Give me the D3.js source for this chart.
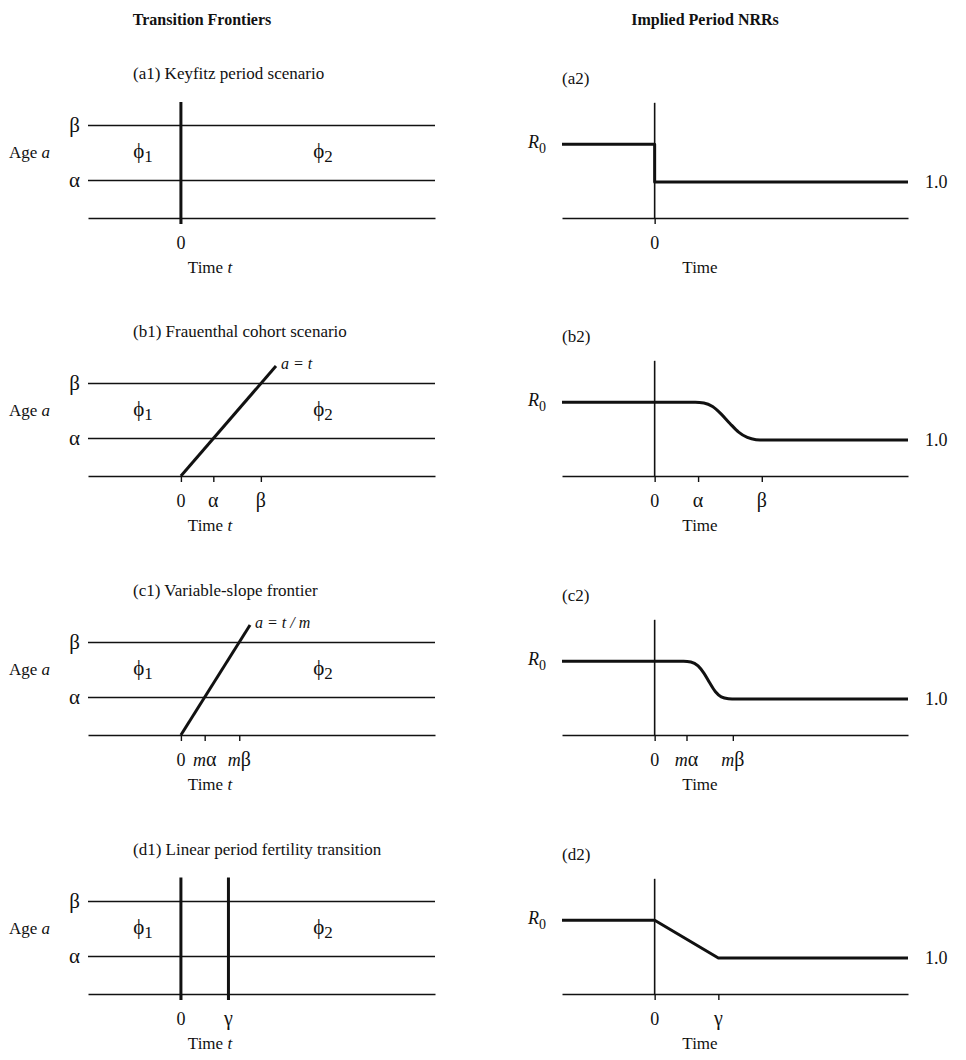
<!DOCTYPE html>
<html>
<head>
<meta charset="utf-8">
<script src="https://cdn.jsdelivr.net/npm/d3@7"></script>
<style>
  body { margin: 0; background: #fff; }
  svg text { font-family: "Liberation Serif", "DejaVu Serif", serif; fill: #111; }
</style>
</head>
<body>
<div id="chart"></div>
<script>
// model constants (ages / time units)
var ALPHA = 15, BETA = 37, GAMMA = 22, R0 = 2.05;

var headers = ["Transition Frontiers", "Implied Period NRRs"];
var leftTitles = ["(a1) Keyfitz period scenario", "(b1) Frauenthal cohort scenario",
                  "(c1) Variable-slope frontier", "(d1) Linear period fertility transition"];
var rightTitles = ["(a2)", "(b2)", "(c2)", "(d2)"];

var ageLines = [{value: BETA, label: "β"}, {value: ALPHA, label: "α"}];

// frontier segments per row, as [time, age] pairs
var frontiers = [
  [[[0, -2.4], [0, 46.4]]],
  [[[0, 0], [44, 44]]],
  [[[0, 0], [32, 44]]],
  [[[0, -2.4], [0, 46.6]], [[GAMMA, -2.4], [GAMMA, 46.6]]]
];
var frontierLabels = [null, "a = t", "a = t / m", null];

// tick marks under the time axes
var ticks = [
  [{t: 0, pre: "", label: "0"}],
  [{t: 0, pre: "", label: "0"}, {t: ALPHA, pre: "", label: "α"}, {t: BETA, pre: "", label: "β"}],
  [{t: 0, pre: "", label: "0"}, {t: 11, pre: "m", label: "α"}, {t: 27, pre: "m", label: "β"}],
  [{t: 0, pre: "", label: "0"}, {t: GAMMA, pre: "", label: "γ"}]
];

// implied period NRR paths, [time, NRR]
var nrrA = [[-32, R0], [0, R0], [0, 1], [87.5, 1]];
var nrrB = [[-32, R0], [14, R0], [17, 2.03], [20, 1.93], [23, 1.72], [26, 1.46],
            [29, 1.22], [32, 1.07], [35, 1.01], [38, 1], [87.5, 1]];
var nrrC = [[-32, R0], [10, R0], [12.5, 2.03], [15, 1.92], [17, 1.72], [19, 1.45],
            [21, 1.2], [23, 1.06], [25.5, 1.01], [28, 1], [87.5, 1]];
var nrrD = [[-32, R0], [0, R0], [GAMMA, 1], [87.5, 1]];
var nrrSeries = [nrrA, nrrB, nrrC, nrrD];
var nrrCurves = [d3.curveLinear, d3.curveMonotoneX, d3.curveMonotoneX, d3.curveLinear];

var width = 966, height = 1060;
var rowBase = [218, 476, 735, 994];

var svg = d3.select("#chart").append("svg")
    .attr("width", width)
    .attr("height", height);

svg.append("text")
    .attr("x", 202).attr("y", 25)
    .attr("text-anchor", "middle")
    .attr("font-size", 16).attr("font-weight", "bold")
    .text(headers[0]);
svg.append("text")
    .attr("x", 705).attr("y", 25)
    .attr("text-anchor", "middle")
    .attr("font-size", 16).attr("font-weight", "bold")
    .text(headers[1]);

function tickText(sel, x, base) {
  var txt = sel.append("g").selectAll("text")
      .data(function (d) { return d; })
      .join("text")
      .attr("x", function (d) { return x(d.t); })
      .attr("y", base + 31)
      .attr("text-anchor", "middle")
      .attr("font-size", 18);
  txt.append("tspan").attr("font-style", "italic").text(function (d) { return d.pre; });
  txt.append("tspan")
      .attr("font-size", function (d) { return d.label === "0" ? 18 : 20; })
      .text(function (d) { return d.label; });
}

function axisBase(g, x, base, tickData) {
  var axis = d3.axisBottom(x)
      .tickValues(tickData.map(function (d) { return d.t; }))
      .tickSize(6).tickSizeOuter(0).tickFormat("");
  var ax = g.append("g")
      .attr("transform", "translate(0," + base + ")")
      .call(axis);
  ax.select(".domain").attr("stroke", "#111").attr("stroke-width", 1.6);
  ax.selectAll(".tick line").attr("stroke", "#111").attr("stroke-width", 1.4);
}

function timeLabel(g, cx, base, italicT) {
  var t = g.append("text")
      .attr("x", cx).attr("y", base + 55)
      .attr("text-anchor", "middle")
      .attr("font-size", 17);
  t.append("tspan").text(italicT ? "Time " : "Time");
  if (italicT) t.append("tspan").attr("font-style", "italic").text("t");
}

rowBase.forEach(function (base, i) {
  // ---------- left: Lexis frontier ----------
  var x = d3.scaleLinear().domain([-43, 117.6]).range([88, 435]);
  var y = d3.scaleLinear().domain([0, 46]).range([base, base - 115]);
  var left = svg.append("g");

  left.append("text")
      .attr("x", 133).attr("y", base - 139)
      .attr("font-size", 17)
      .text(leftTitles[i]);

  left.selectAll("line.age")
      .data(ageLines)
      .join("line")
      .attr("class", "age")
      .attr("x1", x.range()[0]).attr("x2", x.range()[1])
      .attr("y1", function (d) { return y(d.value); })
      .attr("y2", function (d) { return y(d.value); })
      .attr("stroke", "#111").attr("stroke-width", 1.6);

  left.selectAll("text.age")
      .data(ageLines)
      .join("text")
      .attr("class", "age")
      .attr("x", 80).attr("y", function (d) { return y(d.value) + 6; })
      .attr("text-anchor", "end")
      .attr("font-size", 21)
      .text(function (d) { return d.label; });

  var ageLab = left.append("text")
      .attr("x", 9).attr("y", y((ALPHA + BETA) / 2) + 5)
      .attr("font-size", 17);
  ageLab.append("tspan").text("Age ");
  ageLab.append("tspan").attr("font-style", "italic").text("a");

  [["ϕ", "1", 143], ["ϕ", "2", 323]].forEach(function (p) {
    var ph = left.append("text")
        .attr("x", p[2]).attr("y", y((ALPHA + BETA) / 2) + 5)
        .attr("text-anchor", "middle")
        .attr("font-size", 21);
    ph.append("tspan").text(p[0]);
    ph.append("tspan").attr("dy", 4).attr("font-size", 17).text(p[1]);
  });

  axisBase(left, x, base, ticks[i]);

  var line = d3.line()
      .x(function (d) { return x(d[0]); })
      .y(function (d) { return y(d[1]); });
  left.selectAll("path.frontier")
      .data(frontiers[i])
      .join("path")
      .attr("class", "frontier")
      .attr("d", line)
      .attr("fill", "none")
      .attr("stroke", "#111").attr("stroke-width", 3);

  if (frontierLabels[i]) {
    var end = frontiers[i][0][1];
    left.append("text")
        .attr("x", x(end[0]) + 5).attr("y", y(end[1]) + 3)
        .attr("font-size", 16).attr("font-style", "italic")
        .attr("xml:space", "preserve")
        .text(frontierLabels[i]);
  }

  d3.select(left.node()).datum(ticks[i]).call(tickText, x, base);
  timeLabel(left, 210, base, true);

  // ---------- right: implied period NRR ----------
  var xr = d3.scaleLinear().domain([-32, 87.5]).range([562, 908]);
  var yr = d3.scaleLinear().domain([0, 1]).range([base, base - 36]);
  var right = svg.append("g");

  right.append("text")
      .attr("x", 562).attr("y", base - 134)
      .attr("font-size", 17)
      .text(rightTitles[i]);

  axisBase(right, xr, base, ticks[i]);

  right.append("line")
      .attr("x1", xr(0)).attr("x2", xr(0))
      .attr("y1", base).attr("y2", yr(3.2))
      .attr("stroke", "#111").attr("stroke-width", 1.6);

  right.append("path")
      .datum(nrrSeries[i])
      .attr("d", d3.line()
          .x(function (d) { return xr(d[0]); })
          .y(function (d) { return yr(d[1]); })
          .curve(nrrCurves[i]))
      .attr("fill", "none")
      .attr("stroke", "#111").attr("stroke-width", 3)
      .attr("stroke-linejoin", "round");

  var r0 = right.append("text")
      .attr("x", 528).attr("y", yr(R0) + 4)
      .attr("font-size", 18);
  r0.append("tspan").attr("font-style", "italic").text("R");
  r0.append("tspan").attr("dy", 5).attr("font-size", 14).text("0");

  right.append("text")
      .attr("x", 925).attr("y", yr(1) + 6)
      .attr("font-size", 18)
      .text("1.0");

  d3.select(right.node()).datum(ticks[i]).call(tickText, xr, base);
  timeLabel(right, 700, base, false);
});
</script>
</body>
</html>
